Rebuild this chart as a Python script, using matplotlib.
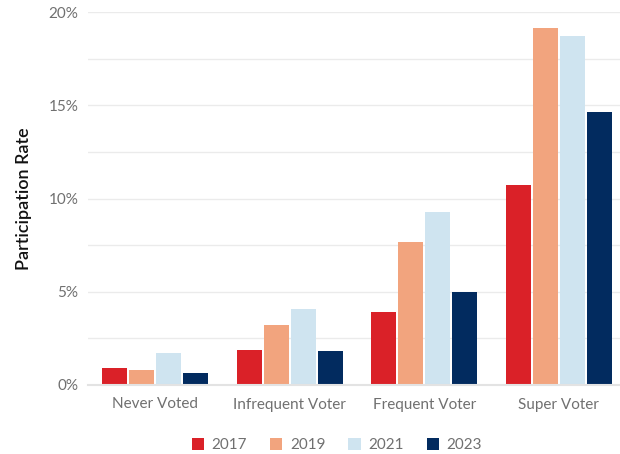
import matplotlib
matplotlib.use("Agg")
import matplotlib.pyplot as plt
import numpy as np

plt.rcParams['font.family'] = ['Lato', 'DejaVu Sans']

categories = ["Never Voted", "Infrequent Voter", "Frequent Voter", "Super Voter"]
years = ["2017", "2019", "2021", "2023"]
rate_2017 = [0.9, 1.9, 3.9, 10.75]
rate_2019 = [0.8, 3.2, 7.65, 19.15]
rate_2021 = [1.7, 4.1, 9.25, 18.7]
rate_2023 = [0.65, 1.8, 5.0, 14.65]
colors = ["#da2128", "#f2a47e", "#cfe4f0", "#022b5f"]

fig = plt.figure(figsize=(6.2, 4.54), dpi=100)
ax = fig.add_axes([88 / 620, 69 / 454, 532 / 620, 373 / 454])

x = np.arange(len(categories))
offsets = [-0.3, -0.1, 0.1, 0.3]
series = [rate_2017, rate_2019, rate_2021, rate_2023]
for vals, off, c, yr in zip(series, offsets, colors, years):
    ax.bar(x + off, vals, width=0.186, color=c, label=yr, zorder=3)

ax.set_xlim(-0.5, -0.5 + 532 / 134.5)
ax.set_ylim(0, 20)
ax.set_yticks([0, 5, 10, 15, 20])
ax.set_yticklabels(["0%", "5%", "10%", "15%", "20%"])
ax.set_yticks(np.arange(0, 20.1, 2.5), minor=True)
ax.grid(axis='y', which='both', color='#ebebeb', linewidth=1, zorder=0)
ax.set_xticks(x)
ax.set_xticklabels(categories)
ax.tick_params(axis='both', which='both', length=0, labelsize=11, colors='#707070')
ax.tick_params(axis='x', pad=9)
ax.tick_params(axis='y', pad=7)
for s in ['top', 'right', 'left']:
    ax.spines[s].set_visible(False)
ax.spines['bottom'].set_color('#e3e3e3')
ax.spines['bottom'].set_linewidth(1.5)
ax.spines['bottom'].set_zorder(4)

ax.set_ylabel("Participation Rate", fontsize=13, color='#111111', fontweight='semibold', labelpad=12)

leg = ax.legend(loc='upper center', bbox_to_anchor=(0.5 - 17 / 532, -0.105), ncol=4, frameon=False,
                fontsize=11, handlelength=0.8, handleheight=0.8, handletextpad=0.5, columnspacing=1.5)
for t in leg.get_texts():
    t.set_color('#707070')

fig.savefig("out.png", dpi=100)
